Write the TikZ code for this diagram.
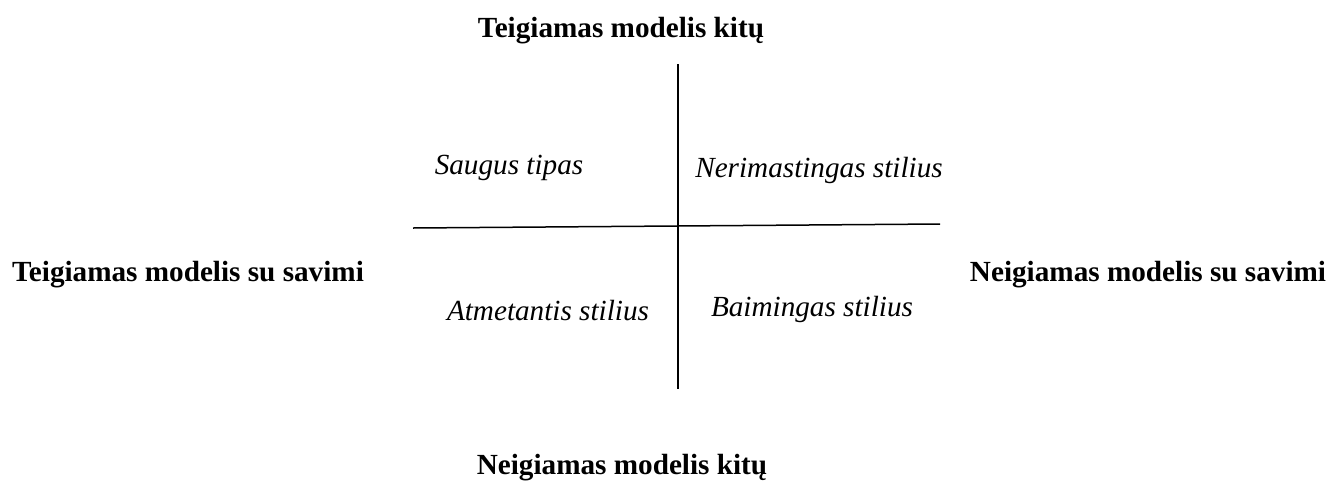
\documentclass[tikz,border=0pt]{standalone}
\usepackage{fontspec}
\setmainfont{Liberation Serif}
\begin{document}
\begin{tikzpicture}[x=1pt,y=-1pt,
  axislabel/.style={font=\fontsize{29.2}{34}\selectfont\bfseries, inner sep=0pt},
  quadlabel/.style={font=\fontsize{29.2}{34}\selectfont\itshape, inner sep=0pt},
  axisline/.style={line width=1.5pt, black}]
\useasboundingbox[fill=white] (0,0) rectangle (1336,480);
\node[axislabel] (top) at (621,31) {Teigiamas modelis kitų};
\node[axislabel] (bottom) at (622,468) {Neigiamas modelis kitų};
\node[axislabel] (left) at (188,275) {Teigiamas modelis su savimi};
\node[axislabel] (right) at (1148,275) {Neigiamas modelis su savimi};
\node[quadlabel] (q1) at (509,168) {Saugus tipas};
\node[quadlabel] (q2) at (819,170) {Nerimastingas stilius};
\node[quadlabel] (q3) at (548,311) {Atmetantis stilius};
\node[quadlabel] (q4) at (812,309) {Baimingas stilius};
\coordinate (vtop) at (678,64);
\coordinate (vbot) at (678,389);
\coordinate (hleft) at (413,228);
\coordinate (hright) at (940,224);
\draw[axisline] (vtop) -- (vbot);
\draw[axisline] (hleft) -- (hright);
\end{tikzpicture}
\end{document}
